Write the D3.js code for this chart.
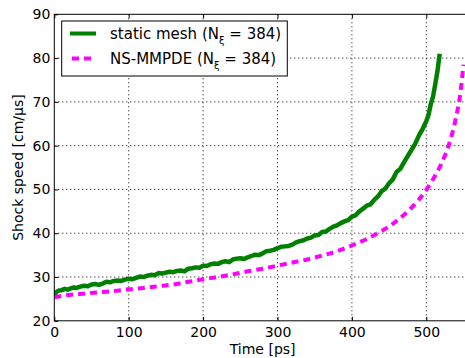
<!DOCTYPE html>
<html><head><meta charset="utf-8">
<script src="https://cdn.jsdelivr.net/npm/d3@7"></script>
<style>body{margin:0;background:#fff}svg{display:block}text{font-family:"DejaVu Sans",sans-serif}</style>
</head><body><svg id="c" width="465" height="358"></svg>
<script>
const staticT = [0,3,6,10,14,18,22,26,30,35,40,45,50,55,60,65,70,75,80,85,90,95,100,105,110,115,120,125,130,135,140,145,150,155,160,165,170,175,180,185,190,195,200,205,210,215,220,225,230,235,240,245,250,255,260,265,270,275,280,285,290,295,300,305,310,315,320,325,330,335,340,345,350,355,360,365,370,375,380,385,390,395,400,405,410,415,420,425,430,435,440,445,450,455,460,465,470,475,480,485,490,495,500,503,506,509,512,515,518];
const staticV = [25.8,26.6,26.9,27.0,27.3,27.1,27.4,27.6,27.5,27.8,28.0,27.9,28.3,28.4,28.2,28.5,28.9,28.8,29.1,29.2,29.1,29.4,29.6,29.5,29.8,30.1,30.0,30.3,30.5,30.4,30.9,30.8,31.0,31.2,31.1,31.4,31.5,31.3,31.9,32.0,32.2,32.1,32.6,32.5,32.9,33.1,33.0,33.4,33.6,33.4,34.0,34.2,34.3,34.1,34.5,34.8,35.1,35.0,35.4,35.9,36.0,36.2,36.6,36.9,37.0,37.1,37.4,37.9,38.2,38.4,38.8,39.0,39.5,39.6,40.3,40.4,41.0,41.5,41.8,42.3,42.7,43.0,43.8,44.1,45.0,45.6,46.3,46.6,47.6,48.4,49.6,50.2,51.4,52.3,54.0,54.7,56.2,57.6,59.0,60.4,62.3,63.8,65.6,67.0,69.5,71.2,74.0,77.0,81.0];
const mmpdeT = [0,20,40,60,80,100,120,140,160,180,200,220,240,260,280,300,320,340,360,380,400,420,440,460,480,500,510,520,530,540,545,550];
const mmpdeV = [25.4,25.9,26.2,26.5,26.8,27.2,27.5,27.9,28.3,28.9,29.5,30.0,30.6,31.3,31.9,32.6,33.3,34.0,34.9,35.9,37.2,38.7,40.5,42.8,45.8,49.9,52.6,55.8,60.0,66.5,71.0,78.5];
const xTicks = [0,100,200,300,400,500];
const yTicks = [20,30,40,50,60,70,80,90];

const svg = d3.select("#c");
const L=54.3, T=14.3, B=320.8, R=54.3+560*0.744;
const x = d3.scaleLinear().domain([0,560]).range([L,R]);
const y = d3.scaleLinear().domain([20,90]).range([B,T]);

svg.append("clipPath").attr("id","clip").append("rect").attr("x",L).attr("y",T).attr("width",R-L).attr("height",B-T);

// grid
const g = svg.append("g");
g.selectAll(".gx").data(xTicks.filter(d=>d>0)).enter().append("line")
 .attr("x1",d=>x(d)).attr("x2",d=>x(d)).attr("y1",T).attr("y2",B)
 .attr("stroke","#000").attr("stroke-width",1).attr("stroke-dasharray","1,3");
g.selectAll(".gy").data(yTicks.filter(d=>d>20&&d<90)).enter().append("line")
 .attr("x1",L).attr("x2",R).attr("y1",d=>y(d)).attr("y2",d=>y(d))
 .attr("stroke","#000").attr("stroke-width",1).attr("stroke-dasharray","1,3");

// lines
const line = d3.line().x(d=>x(d[0])).y(d=>y(d[1]));
const plot = svg.append("g").attr("clip-path","url(#clip)");
plot.append("path").datum(staticT.map((t,i)=>[t,staticV[i]]))
 .attr("d",line).attr("fill","none").attr("stroke","#008000").attr("stroke-width",4.5).attr("stroke-linejoin","round");
plot.append("path").datum(mmpdeT.map((t,i)=>[t,mmpdeV[i]]))
 .attr("d",line.curve(d3.curveMonotoneX)).attr("fill","none").attr("stroke","#ff00ff").attr("stroke-width",4).attr("stroke-dasharray","7,5");

// frame
svg.append("rect").attr("x",L).attr("y",T).attr("width",R-L).attr("height",B-T)
 .attr("fill","none").attr("stroke","#000").attr("stroke-width",1);

// axes with inward ticks
const xa = svg.append("g").attr("transform",`translate(0,${B})`)
 .call(d3.axisBottom(x).tickValues(xTicks).tickSize(-4).tickPadding(6).tickFormat(d3.format("d")));
const xt = svg.append("g").attr("transform",`translate(0,${T})`)
 .call(d3.axisTop(x).tickValues(xTicks).tickSize(-4).tickFormat(""));
const ya = svg.append("g").attr("transform",`translate(${L},0)`)
 .call(d3.axisLeft(y).tickValues(yTicks).tickSize(-4).tickPadding(4).tickFormat(d3.format("d")));
[xa,xt,ya].forEach(a=>{a.select(".domain").remove();a.selectAll("line").attr("stroke","#000");
 a.selectAll("text").attr("fill","#000").style("font-size","14px").style("font-family","DejaVu Sans");});

svg.append("text").attr("x",(L+R)/2).attr("y",354).attr("text-anchor","middle")
 .style("font-size","14px").text("Time [ps]");
svg.append("text").attr("transform",`translate(23,${(T+B)/2}) rotate(-90)`).attr("text-anchor","middle")
 .style("font-size","14px").text("Shock speed [cm/\u03bcs]");

// legend
const lg = svg.append("g");
lg.append("rect").attr("x",61.7).attr("y",21).attr("width",225.6).attr("height",55)
 .attr("fill","#fff").attr("stroke","#000").attr("stroke-width",1);
const labels = ["static mesh (N","NS-MMPDE (N"];
const cols = ["#008000","#ff00ff"];
const rows = [33.5,58.5];
labels.forEach((lab,i)=>{
  const ln = lg.append("line").attr("x1",70).attr("x2",96).attr("y1",rows[i]).attr("y2",rows[i])
   .attr("stroke",cols[i]).attr("stroke-width",4);
  if(i===1) ln.attr("stroke-dasharray","7,5").attr("x1",72).attr("x2",96);
  const t = lg.append("text").attr("x",110).attr("y",rows[i]+5).style("font-size","15px");
  t.append("tspan").text(lab);
  t.append("tspan").attr("dy",5).style("font-size","10px").text("\u03be");
  t.append("tspan").attr("dy",-5).text(" = 384)");
});
</script></body></html>
